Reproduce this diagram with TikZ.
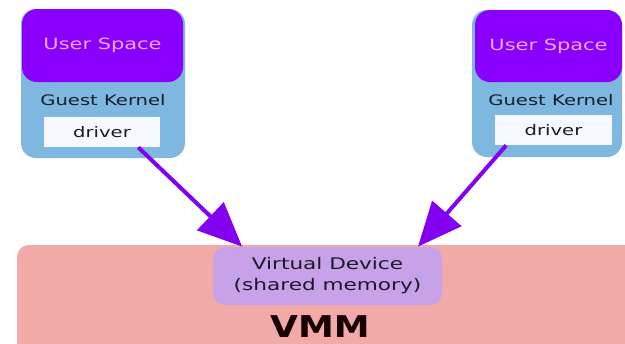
\documentclass[tikz,border=0pt]{standalone}
\usepackage{fontspec}
\usepackage{tikz}
\usetikzlibrary{arrows.meta}
\newfontfamily\boxfont[FakeStretch=1.35]{DejaVu Sans}
\newfontfamily\vmmfont[FakeStretch=1.2]{DejaVu Sans}
\definecolor{userpurple}{RGB}{138,0,255}
\definecolor{usertext}{RGB}{240,168,240}
\definecolor{kernelblue}{RGB}{126,184,224}
\definecolor{vmmpink}{RGB}{242,170,168}
\definecolor{devlilac}{RGB}{200,162,232}
\definecolor{linkpurple}{RGB}{132,0,240}
\definecolor{darktext}{RGB}{24,28,40}

\begin{document}
\begin{tikzpicture}[x=0.5pt,y=-0.5pt,
  guest/.style={fill=kernelblue,rounded corners=7.5pt,inner sep=0pt},
  user/.style={fill=userpurple,rounded corners=7.5pt,inner sep=0pt,text=usertext,
    font=\boxfont\fontsize{7.75pt}{9pt}\selectfont},
  kernel/.style={inner sep=0pt,text=darktext,font=\boxfont\fontsize{7.25pt}{9pt}\selectfont},
  drv/.style={fill=white!97!blue,inner sep=0pt,text=darktext,font=\boxfont\fontsize{7.25pt}{9pt}\selectfont},
  link/.style={draw=linkpurple,line width=2pt,-{Triangle[length=22pt,width=19pt]}}]
\path[use as bounding box] (0,0) rectangle (625,343);
\clip (0,0) rectangle (625,343);
\fill[white] (0,0) rectangle (625,343);
% VMM
\fill[vmmpink,rounded corners=6pt] (17,245) rectangle (660,380);
\node[fill=devlilac,rounded corners=6pt,minimum width=114.5pt,minimum height=29pt,inner sep=0pt,
  align=center,text=darktext,font=\boxfont\fontsize{8pt}{10.5pt}\selectfont] (vd) at (327.5,276)
  {Virtual Device\\(shared memory)};
\node[text=black!90!red,font=\vmmfont\bfseries\fontsize{15pt}{18pt}\selectfont] (vmm) at (320,327) {VMM};
% left guest
\node[guest,minimum width=82pt,minimum height=74.5pt] (lguest) at (103,83.5) {};
\node[user,minimum width=80.5pt,minimum height=36.5pt] (luser) at (102.5,45.5) {User Space};
\node[kernel] (lkernel) at (103,100) {Guest Kernel};
\node[drv,minimum width=58pt,minimum height=15pt] (ldrv) at (102,132) {driver};
% right guest
\node[guest,minimum width=75pt,minimum height=73.5pt] (rguest) at (547,83.5) {};
\node[user,minimum width=73.5pt,minimum height=36pt] (ruser) at (548.5,46) {User Space};
\node[kernel] (rkernel) at (551,100) {Guest Kernel};
\node[drv,minimum width=58.5pt,minimum height=15pt] (rdrv) at (553.5,130) {driver};
% links
\draw[link] (ldrv.-23) -- (vd.161);
\draw[link] (rdrv.198) -- (vd.18);
\end{tikzpicture}
\end{document}
